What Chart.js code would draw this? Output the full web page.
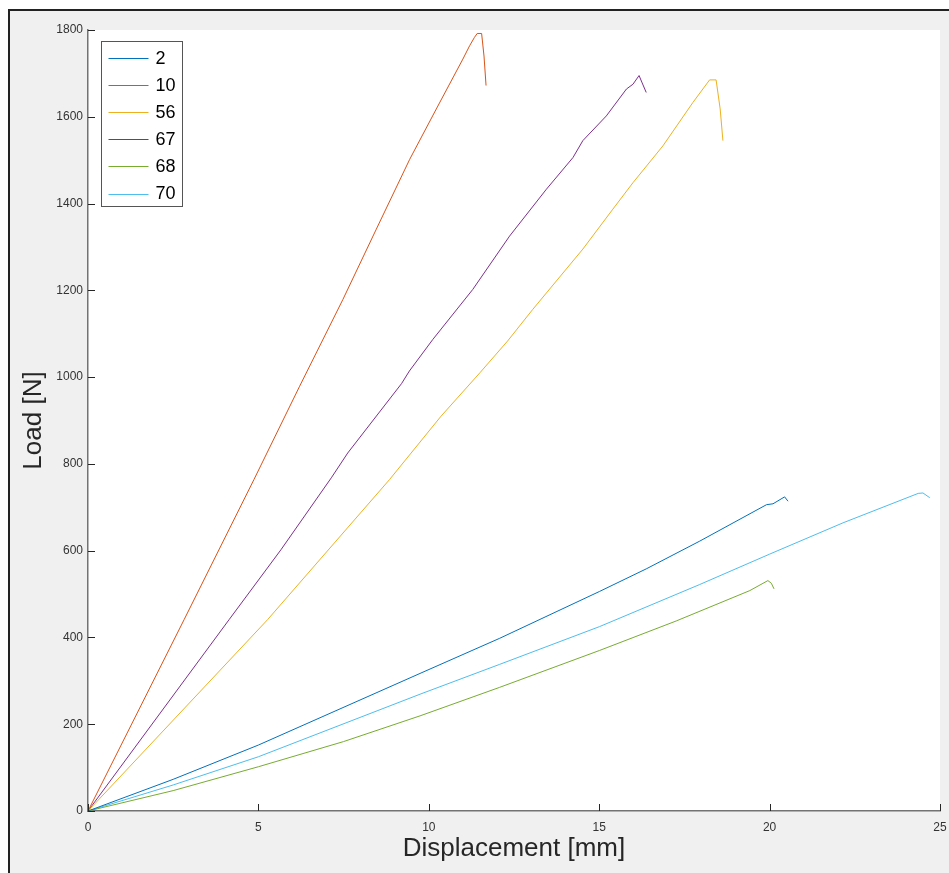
<!DOCTYPE html>
<html>
<head>
<meta charset="utf-8">
<script src="https://cdn.jsdelivr.net/npm/chart.js@4"></script>
<style>
  html, body { margin:0; padding:0; background:#ffffff; }
  #frame { position:absolute; left:8px; top:9px; width:960px; height:880px;
           background:#f0f0f0; border-top:2px solid #222; border-left:2px solid #222; }
  #c { position:absolute; left:0; top:0; }
</style>
</head>
<body>
<div id="frame"></div>
<canvas id="c" width="949" height="873"></canvas>
<script>
// ---- data ----
const seriesLabels = ['2', '10', '56', '67', '68', '70'];
const seriesColors = ['#0072BD', '#D95319', '#EDB120', '#7E2F8E', '#77AC30', '#4DBEEE'];

const disp2  = [0, 2.5, 5.0, 9.77, 12.08, 15.01, 16.38, 17.95, 19.91, 20.1, 20.44, 20.54];
const load2  = [0, 73, 152, 318, 398, 506, 558, 622, 706, 708, 724, 714];

const disp10 = [0, 2.82, 4.87, 6.21, 7.48, 8.46, 9.44, 10.22, 11.0, 11.2, 11.34, 11.42, 11.55, 11.62, 11.68];
const load10 = [0, 441, 764, 979, 1179, 1341, 1502, 1618, 1733, 1764, 1783, 1792, 1792, 1740, 1672];

const disp56 = [0, 5.27, 8.85, 10.36, 11.5, 12.31, 13.05, 14.52, 15.4, 15.99, 16.87, 17.75, 18.24, 18.43, 18.55, 18.63];
const load56 = [0, 441, 764, 910, 1010, 1083, 1156, 1295, 1387, 1448, 1533, 1633, 1685, 1685, 1618, 1545];

const disp67 = [0, 4.14, 5.66, 7.14, 7.62, 9.2, 9.43, 10.12, 11.29, 12.37, 13.45, 14.23, 14.52, 15.21, 15.8, 15.99, 16.17, 16.25, 16.38];
const load67 = [0, 441, 602, 768, 825, 985, 1014, 1087, 1202, 1325, 1433, 1506, 1545, 1602, 1664, 1675, 1695, 1680, 1656];

const disp68 = [0, 2.5, 5.0, 7.5, 9.77, 12.08, 15.01, 17.26, 19.42, 19.95, 20.05, 20.13];
const load68 = [0, 47, 102, 160, 220, 285, 370, 438, 508, 531, 525, 512];

const disp70 = [0, 2.5, 5.0, 9.77, 12.08, 15.01, 17.95, 20.0, 22.15, 24.36, 24.5, 24.7];
const load70 = [0, 60, 125, 270, 338, 425, 522, 592, 664, 732, 733, 722];

const xTickStep = 5, xMin = 0, xMax = 25;
const yTickStep = 200, yMin = 0, yMax = 1800;

const seriesX = [disp2, disp10, disp56, disp67, disp68, disp70];
const seriesY = [load2, load10, load56, load67, load68, load70];

// ---- plugins ----
const plotBg = {
  id: 'plotBg',
  beforeDraw(chart) {
    const {ctx, chartArea: a} = chart;
    ctx.save();
    ctx.fillStyle = '#ffffff';
    ctx.fillRect(a.left, a.top, a.right - a.left, a.bottom - a.top);
    ctx.restore();
  }
};

const innerTicks = {
  id: 'innerTicks',
  afterDraw(chart) {
    const {ctx, chartArea: a, scales: {x, y}} = chart;
    ctx.save();
    ctx.strokeStyle = '#262626';
    ctx.lineWidth = 1;
    ctx.beginPath();
    x.ticks.forEach(t => {
      const px = Math.round(x.getPixelForValue(t.value)) + 0.5;
      ctx.moveTo(px, a.bottom); ctx.lineTo(px, a.bottom - 7);
    });
    y.ticks.forEach(t => {
      const py = Math.round(y.getPixelForValue(t.value)) + 0.5;
      ctx.moveTo(a.left, py); ctx.lineTo(a.left + 7, py);
    });
    ctx.stroke();
    ctx.restore();
  }
};

const insideLegend = {
  id: 'insideLegend',
  afterDraw(chart) {
    const {ctx, chartArea: a} = chart;
    const bx = a.left + 13.5, by = a.top + 11.5, bw = 81, bh = 165;
    ctx.save();
    ctx.fillStyle = '#ffffff';
    ctx.fillRect(bx, by, bw, bh);
    ctx.strokeStyle = '#555555';
    ctx.lineWidth = 1;
    ctx.strokeRect(bx, by, bw, bh);
    ctx.font = '18px "Liberation Sans", Arial, sans-serif';
    ctx.textBaseline = 'middle';
    ctx.textAlign = 'left';
    chart.data.datasets.forEach((ds, i) => {
      const cy = by + 16.5 + i * 27.1;
      ctx.strokeStyle = ds.borderColor;
      ctx.lineWidth = 1;
      ctx.beginPath();
      ctx.moveTo(bx + 7, Math.round(cy) + 0.5);
      ctx.lineTo(bx + 47, Math.round(cy) + 0.5);
      ctx.stroke();
      ctx.fillStyle = '#000000';
      ctx.fillText(ds.label, bx + 54, cy + 1);
    });
    ctx.restore();
  }
};

// ---- chart ----
const datasets = seriesLabels.map((lab, i) => ({
  label: lab,
  data: seriesX[i].map((v, j) => ({x: v, y: seriesY[i][j]})),
  borderColor: seriesColors[i],
  backgroundColor: seriesColors[i],
  borderWidth: 1,
  showLine: true,
  pointRadius: 0,
  fill: false,
  tension: 0
}));

const plainNumber = (v) => String(v);

new Chart(document.getElementById('c').getContext('2d'), {
  type: 'scatter',
  data: { datasets },
  options: {
    responsive: false,
    animation: false,
    devicePixelRatio: 1,
    layout: { padding: { left: 0, right: 9, top: 30, bottom: 0 } },
    plugins: { legend: { display: false }, tooltip: { enabled: false } },
    scales: {
      x: {
        type: 'linear', min: xMin, max: xMax,
        ticks: { stepSize: xTickStep, color: '#333333', padding: 9, maxRotation: 0,
                 callback: plainNumber,
                 font: { family: '"Liberation Sans", Arial, sans-serif', size: 12 } },
        grid: { display: false, drawTicks: false },
        border: { display: true, color: '#737373', width: 1.5 },
        title: { display: true, text: 'Displacement [mm]', color: '#262626',
                 font: { family: '"Liberation Sans", Arial, sans-serif', size: 26 },
                 padding: { top: 0, bottom: 9 } },
        afterFit(s) { s.height = 62; s.paddingLeft = 0; s.paddingRight = 0; }
      },
      y: {
        type: 'linear', min: yMin, max: yMax,
        ticks: { stepSize: yTickStep, color: '#333333', padding: 5,
                 callback: plainNumber,
                 font: { family: '"Liberation Sans", Arial, sans-serif', size: 12 } },
        grid: { display: false, drawTicks: false },
        border: { display: true, color: '#737373', width: 1.5 },
        title: { display: true, text: 'Load [N]', color: '#262626',
                 font: { family: '"Liberation Sans", Arial, sans-serif', size: 26 },
                 padding: { top: 18, bottom: 0 } },
        afterFit(s) { s.width = 88; s.paddingTop = 0; s.paddingBottom = 0; }
      }
    }
  },
  plugins: [plotBg, innerTicks, insideLegend]
});
</script>
</body>
</html>
